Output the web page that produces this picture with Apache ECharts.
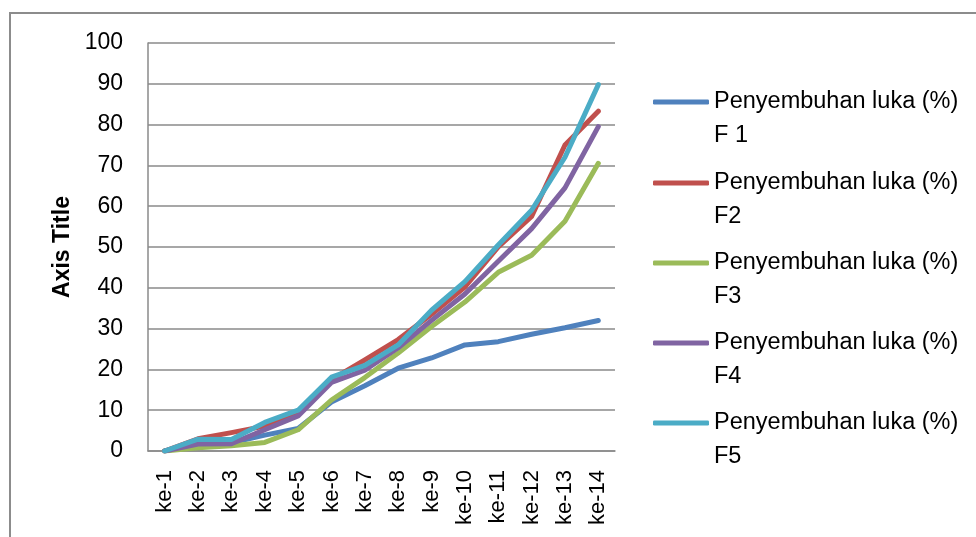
<!DOCTYPE html>
<html>
<head>
<meta charset="utf-8">
<script src="https://cdn.jsdelivr.net/npm/echarts@6/dist/echarts.min.js"></script>
<style>
  html, body { margin: 0; padding: 0; background: #ffffff; }
  #chart { width: 976px; height: 537px; }
</style>
</head>
<body>
<div id="chart"></div>
<script>
// Wound healing percentage per observation, five formulas
const categories = ['ke-1', 'ke-2', 'ke-3', 'ke-4', 'ke-5', 'ke-6', 'ke-7',
                    'ke-8', 'ke-9', 'ke-10', 'ke-11', 'ke-12', 'ke-13', 'ke-14'];

const seriesNames = [
  'Penyembuhan luka (%)\nF 1',
  'Penyembuhan luka (%)\nF2',
  'Penyembuhan luka (%)\nF3',
  'Penyembuhan luka (%)\nF4',
  'Penyembuhan luka (%)\nF5'
];

const f1 = [0, 2, 2, 3.9, 5.5, 12, 16, 20.3, 22.8, 26, 26.8, 28.6, 30.2, 32];
const f2 = [0, 3, 4.5, 6.1, 9.1, 17.5, 22.3, 27.3, 33.5, 40.2, 50, 57.5, 75, 83.3];
const f3 = [0, 0.8, 1.3, 2.1, 5.2, 12.5, 18, 24, 30.5, 36.5, 43.8, 48, 56.3, 70.5];
const f4 = [0, 1.7, 1.8, 5.2, 8.6, 16.8, 19.8, 25.3, 32, 38.5, 46.5, 54.5, 64.5, 79.5];
const f5 = [0, 2.9, 2.8, 7, 10, 18.1, 21, 26, 34.5, 41.5, 50.5, 59, 72, 89.8];

const yTicks = { min: 0, max: 100, interval: 10 };

const seriesValues = [f1, f2, f3, f4, f5];
const colors = ['#4F81BD', '#C0504D', '#9BBB59', '#8064A2', '#4BACC6'];

const fontMain = '"Liberation Sans", Arial, sans-serif';
const gridColor = '#8a8a8a';
const legendLine = 34;

// one legend per series, stacked down the right side; a blank lead line
// keeps the colour swatch level with the first text line
const legendCenters = [102, 183, 263, 343, 423];
const legends = seriesNames.map((name, i) => ({
  data: [name],
  left: 653,
  top: legendCenters[i] - legendLine * 1.5,
  padding: 0,
  icon: 'roundRect',
  itemWidth: 56,
  itemHeight: 5,
  selectedMode: false,
  formatter: n => '\u00a0\n' + n,
  textStyle: {
    fontFamily: fontMain,
    fontSize: 23.5,
    color: '#000',
    lineHeight: legendLine
  }
}));

const chart = echarts.init(document.getElementById('chart'), null, { renderer: 'canvas' });

chart.setOption({
  animation: false,
  backgroundColor: '#ffffff',
  color: colors,
  graphic: [{
    type: 'rect',
    shape: { x: 10, y: 13, width: 1000, height: 600 },
    style: { fill: 'none', stroke: '#8c8c8c', lineWidth: 2 },
    silent: true
  }],
  legend: legends,
  grid: { left: 148, right: 361, top: 43, bottom: 86, containLabel: false },
  xAxis: {
    type: 'category',
    data: categories,
    boundaryGap: true,
    axisLine: { show: true, lineStyle: { color: gridColor, width: 1.5 } },
    axisTick: { show: false },
    axisLabel: {
      rotate: 90,
      margin: 19,
      fontFamily: fontMain,
      fontSize: 22,
      color: '#000'
    },
    splitLine: { show: false }
  },
  yAxis: {
    type: 'value',
    min: yTicks.min,
    max: yTicks.max,
    interval: yTicks.interval,
    name: 'Axis Title',
    nameLocation: 'middle',
    nameRotate: 90,
    nameGap: 74,
    nameTextStyle: {
      fontFamily: fontMain,
      fontWeight: 'bold',
      fontSize: 23,
      color: '#000'
    },
    axisLine: { show: true, lineStyle: { color: gridColor, width: 1.5 } },
    axisTick: { show: false },
    axisLabel: {
      margin: 25,
      fontFamily: fontMain,
      fontSize: 23,
      color: '#000'
    },
    splitLine: { show: true, lineStyle: { color: gridColor, width: 1.5 } }
  },
  series: seriesValues.map((vals, i) => ({
    name: seriesNames[i],
    type: 'line',
    data: vals,
    showSymbol: false,
    symbol: 'none',
    lineStyle: { width: 5, color: colors[i], join: 'round', cap: 'round' },
    itemStyle: { color: colors[i] },
    z: 2 + i
  }))
});
</script>
</body>
</html>
